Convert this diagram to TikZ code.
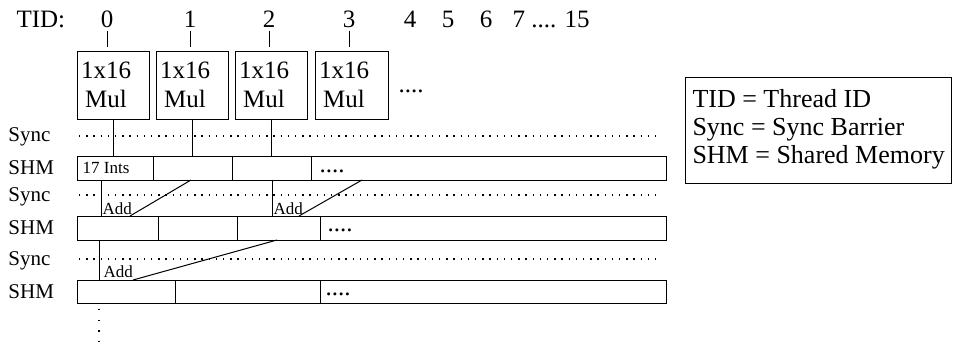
\documentclass[tikz,border=0pt]{standalone}
\usepackage{fontspec}
\setmainfont{Liberation Serif}
\begin{document}
\begin{tikzpicture}[x=1pt,y=-1pt,line width=1pt,
  big/.style={font=\fontsize{25}{29}\selectfont, inner sep=0pt},
  rowlab/.style={font=\fontsize{21}{24}\selectfont, inner sep=0pt, anchor=west},
  small/.style={font=\fontsize{17}{18}\selectfont, inner sep=0pt},
  cell/.style={draw, line width=1.1pt, inner sep=0pt},
  syncline/.style={line width=1.3pt, dash pattern=on 1.3pt off 5.9pt},
  conn/.style={line width=1pt}]
\useasboundingbox (0,0) rectangle (956,347);

% TID header
\node[big, anchor=west] (tid) at (16,19) {TID:};
\node[big] (d0) at (107,19) {0};
\node[big] (d1) at (190,19) {1};
\node[big] (d2) at (269,19) {2};
\node[big] (d3) at (349,19) {3};
\node[big] (d4) at (410,19) {4};
\node[big] (d5) at (448,19) {5};
\node[big] (d6) at (486,19) {6};
\node[big, anchor=west] (d7) at (512,19) {7 .... 15};

% Mul boxes
\foreach \i/\l/\r in {0/77/149,1/156/228,2/235/307,3/315/388}{
  \node[cell, minimum width={\r-\l}, minimum height=68, anchor=north west] (m\i) at (\l,51) {};
  \node[big, align=center] (t\i) at ({\l+29},85) {1x16\\Mul};
}
\node[big] (mdots) at (411,91) {....};

\foreach \i in {0,1,2,3}{
  \coordinate (tk\i) at ([yshift=4pt]m\i.north -| d\i);
  \draw[conn] ([yshift=-3pt]d\i.south) -- (tk\i);
}

% row labels
\node[rowlab] (ls1) at (8,137) {Sync};
\node[rowlab] (lm1) at (8,168) {SHM};
\node[rowlab] (ls2) at (8,197) {Sync};
\node[rowlab] (lm2) at (8,228) {SHM};
\node[rowlab] (ls3) at (8,261) {Sync};
\node[rowlab] (lm3) at (8,292) {SHM};

% sync lines
\coordinate (s1a) at (79,136); \coordinate (s1b) at (662,136);
\coordinate (s2a) at (79,195); \coordinate (s2b) at (662,195);
\coordinate (s3a) at (79,259); \coordinate (s3b) at (662,259);
\draw[syncline] (s1a) -- (s1b);
\draw[syncline] (s2a) -- (s2b);
\draw[syncline] (s3a) -- (s3b);

% SHM row 1
\node[cell, minimum width=76, minimum height=24, anchor=north west] (a0) at (77,156) {};
\node[cell, minimum width=79, minimum height=24, anchor=north west] (a1) at (153,156) {};
\node[cell, minimum width=79, minimum height=24, anchor=north west] (a2) at (232,156) {};
\node[cell, minimum width=355, minimum height=24, anchor=north west] (a3) at (311,156) {};
\node[small] (ints) at (106,168) {17 Ints};
\node[big, anchor=west] (adots) at (319,171) {....};

% SHM row 2
\node[cell, minimum width=81, minimum height=24, anchor=north west] (b0) at (77,216) {};
\node[cell, minimum width=79, minimum height=24, anchor=north west] (b1) at (158,216) {};
\node[cell, minimum width=83, minimum height=24, anchor=north west] (b2) at (237,216) {};
\node[cell, minimum width=346, minimum height=24, anchor=north west] (b3) at (320,216) {};
\node[big, anchor=west] (bdots) at (327,230) {....};

% SHM row 3
\node[cell, minimum width=98, minimum height=23, anchor=north west] (c0) at (77,280) {};
\node[cell, minimum width=145, minimum height=23, anchor=north west] (c1) at (175,280) {};
\node[cell, minimum width=346, minimum height=23, anchor=north west] (c2) at (320,280) {};
\node[big, anchor=west] (cdots) at (325,294) {....};

% Mul -> SHM row 1
\foreach \i in {0,1,2}{
  \draw[conn] (m\i.south) -- (m\i.south |- a0.north);
}

% Add row 1 -> row 2
\coordinate (p1t) at (101,180); \coordinate (p1b) at (101,216);
\coordinate (q1t) at (191,180); \coordinate (q1b) at (130,216);
\draw[conn] (p1t) -- (p1b);
\draw[conn] (q1t) -- (q1b);
\node[small, anchor=south west] (add1) at (102,215) {Add};
\coordinate (p2t) at (272,180); \coordinate (p2b) at (272,216);
\coordinate (q2t) at (362,180); \coordinate (q2b) at (299,216);
\draw[conn] (p2t) -- (p2b);
\draw[conn] (q2t) -- (q2b);
\node[small, anchor=south west] (add2) at (273,215) {Add};

% Add row 2 -> row 3
\coordinate (p3t) at (99,240); \coordinate (p3b) at (99,280);
\coordinate (q3t) at (277,240); \coordinate (q3b) at (133,280);
\draw[conn] (p3t) -- (p3b);
\draw[conn] (q3t) -- (q3b);
\node[small, anchor=south west] (add3) at (103,278) {Add};

% vertical continuation dots
\coordinate (vd1) at (99,309); \coordinate (vd2) at (99,344);
\draw[line width=1.4pt, dash pattern=on 1.4pt off 9.2pt] (vd1) -- (vd2);

% legend
\node[cell, minimum width=266, minimum height=106, anchor=north west] (leg) at (685,77) {};
\node[font=\fontsize{26}{28}\selectfont, inner sep=0pt, anchor=west, align=left] (legt) at (692,129)
  {TID = Thread ID\\Sync = Sync Barrier\\SHM = Shared Memory};
\end{tikzpicture}
\end{document}
